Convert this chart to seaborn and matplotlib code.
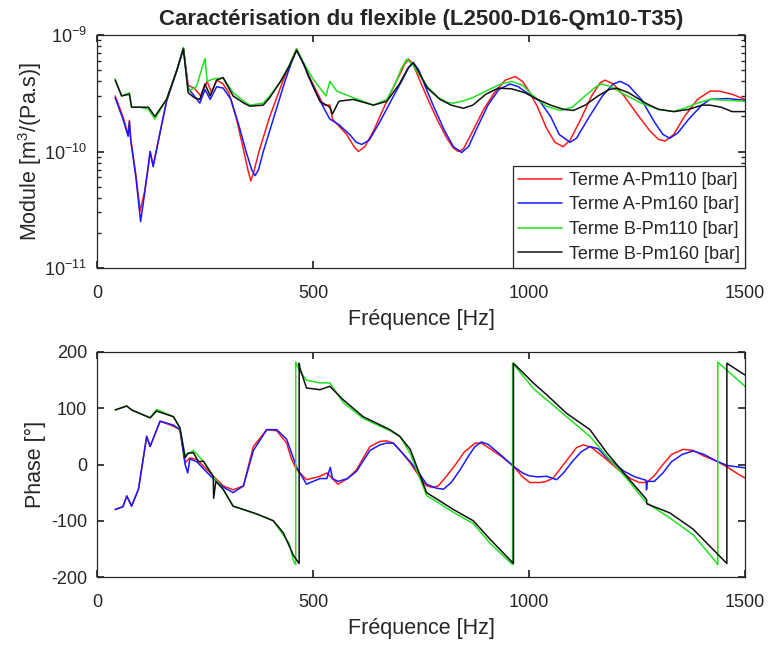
import numpy as np
import pandas as pd
import seaborn as sns
import matplotlib
matplotlib.use("Agg")
import matplotlib.pyplot as plt
from matplotlib.ticker import LogLocator, NullFormatter

## data (frequency in Hz)

# module, Terme A-Pm110
f_mod_a110 = [42, 60, 72, 75, 78, 90, 100, 110, 119, 123, 130, 145, 161, 185, 200, 211, 225, 240,
              255, 265, 277, 292, 305, 323, 340, 350, 356, 362, 375, 400, 430, 450, 462, 475, 490,
              524, 539, 545, 578, 595, 605, 620, 640, 660, 680, 700, 712, 721, 732, 748, 770, 790,
              810, 825, 836, 848, 870, 895, 920, 945, 968, 985, 1000, 1020, 1040, 1060, 1079, 1095,
              1120, 1145, 1165, 1176, 1195, 1220, 1250, 1280, 1300, 1315, 1335, 1360, 1390, 1419,
              1440, 1470, 1500]
mod_a110 = [3.0e-10, 2.0e-10, 1.4e-10, 1.85e-10, 1.3e-10, 6.3e-11, 3.1e-11, 4.5e-11, 7.6e-11, 1.0e-10,
            7.6e-11, 1.4e-10, 2.7e-10, 5.0e-10, 7.8e-10, 3.7e-10, 3.5e-10, 3.0e-10, 4.0e-10, 3.2e-10,
            4.1e-10, 3.8e-10, 3.2e-10, 1.9e-10, 1.0e-10, 6.8e-11, 5.6e-11, 6.5e-11, 1.0e-10, 2.0e-10,
            4.0e-10, 6.0e-10, 7.6e-10, 6.0e-10, 4.5e-10,
            2.5e-10, 2.5e-10, 1.9e-10, 1.4e-10, 1.1e-10, 1.0e-10, 1.1e-10, 1.5e-10, 2.2e-10, 3.2e-10,
            4.5e-10, 5.6e-10, 6.2e-10, 5.6e-10, 4.0e-10, 2.6e-10, 1.8e-10,
            1.3e-10, 1.07e-10, 1.0e-10, 1.05e-10, 1.5e-10, 2.3e-10, 3.2e-10, 4.1e-10, 4.4e-10, 4.0e-10,
            3.3e-10, 2.4e-10, 1.6e-10, 1.2e-10, 1.1e-10, 1.25e-10,
            1.9e-10, 3.0e-10, 3.9e-10, 4.1e-10, 3.8e-10, 3.0e-10, 2.1e-10, 1.5e-10, 1.27e-10, 1.23e-10,
            1.4e-10, 2.0e-10, 2.8e-10, 3.3e-10,
            3.3e-10, 3.1e-10, 2.8e-10]

# module, Terme A-Pm160
f_mod_a160 = [42, 60, 72, 75, 78, 90, 101, 110, 119, 123, 130, 145, 161, 185, 200, 211, 225, 238,
              250, 262, 277, 292, 310, 330, 345, 358, 366, 374, 385, 410, 435, 450, 462, 475, 490,
              505, 524, 539, 560, 585, 600, 613, 630, 655, 680, 705, 722, 732, 745, 760, 780, 805,
              825, 844, 860, 880, 905, 930, 956, 975, 1000, 1025, 1050, 1070, 1095, 1110, 1140,
              1170, 1195, 1211, 1230, 1260, 1290, 1310, 1326, 1345, 1370, 1400, 1419, 1460, 1500]
mod_a160 = [2.9e-10, 1.9e-10, 1.35e-10, 1.8e-10, 1.25e-10, 6.0e-11, 2.5e-11, 4.3e-11, 7.6e-11, 1.0e-10,
            7.4e-11, 1.4e-10, 2.7e-10, 5.0e-10, 7.6e-10, 3.5e-10, 3.0e-10, 2.6e-10, 3.4e-10, 2.8e-10,
            3.6e-10, 3.5e-10, 2.8e-10, 1.6e-10, 1.0e-10, 7.0e-11, 6.2e-11, 7.0e-11, 1.0e-10, 2.0e-10,
            4.0e-10, 5.8e-10, 7.4e-10, 6.0e-10, 4.4e-10,
            3.3e-10, 2.4e-10, 1.9e-10, 1.7e-10, 1.4e-10, 1.2e-10, 1.15e-10, 1.25e-10, 1.8e-10, 2.7e-10,
            4.0e-10, 5.3e-10, 5.8e-10, 5.0e-10, 3.6e-10, 2.4e-10, 1.5e-10,
            1.1e-10, 9.8e-11, 1.1e-10, 1.6e-10, 2.5e-10, 3.4e-10, 3.8e-10, 3.6e-10, 3.1e-10, 2.7e-10,
            2.0e-10, 1.4e-10, 1.2e-10, 1.3e-10, 2.0e-10,
            3.0e-10, 3.8e-10, 4.0e-10, 3.7e-10, 2.8e-10, 1.8e-10, 1.4e-10, 1.3e-10, 1.45e-10, 1.9e-10,
            2.5e-10, 2.8e-10, 2.85e-10, 2.75e-10]

# module, Terme B-Pm110
f_mod_b110 = [42, 57, 75, 80, 100, 119, 134, 161, 185, 200, 211, 230, 250, 255, 270, 292, 315, 340,
              354, 385, 400, 425, 445, 462, 480, 500, 530, 539, 555, 593, 640, 671, 690, 705, 717,
              730, 745, 765, 790, 810, 825, 845, 870, 900, 935, 960, 985, 1010, 1040, 1072, 1100,
              1130, 1155, 1168, 1190, 1220, 1260, 1300, 1334, 1360, 1390, 1419, 1460, 1500]
mod_b110 = [4.2e-10, 3.0e-10, 3.2e-10, 2.4e-10, 2.4e-10, 2.3e-10, 1.9e-10, 2.8e-10, 5.0e-10, 7.8e-10,
            3.3e-10, 3.6e-10, 6.3e-10, 4.0e-10, 4.2e-10, 4.3e-10, 3.2e-10, 2.7e-10,
            2.5e-10, 2.6e-10, 3.0e-10, 4.0e-10, 5.5e-10, 7.6e-10, 5.6e-10, 4.2e-10, 3.0e-10, 4.0e-10,
            3.3e-10, 2.9e-10, 2.5e-10, 2.8e-10, 3.8e-10, 5.2e-10, 6.2e-10,
            5.6e-10, 4.6e-10, 3.6e-10, 2.9e-10, 2.65e-10, 2.6e-10, 2.7e-10, 2.9e-10, 3.3e-10, 3.8e-10,
            4.0e-10, 3.7e-10, 3.0e-10, 2.45e-10, 2.25e-10, 2.4e-10,
            3.0e-10, 3.6e-10, 3.8e-10, 3.6e-10, 3.1e-10, 2.6e-10, 2.3e-10, 2.2e-10, 2.35e-10, 2.6e-10,
            2.8e-10, 2.75e-10, 2.7e-10]

# module, Terme B-Pm160
f_mod_b160 = [42, 57, 75, 80, 100, 119, 134, 161, 185, 200, 211, 225, 238, 250, 262, 277, 292, 315,
              340, 354, 385, 400, 425, 445, 462, 480, 490, 516, 539, 545, 560, 593, 640, 671, 700,
              720, 732, 745, 765, 794, 820, 848, 870, 900, 929, 960, 990, 1020, 1050, 1080, 1103,
              1130, 1160, 1185, 1203, 1230, 1270, 1300, 1336, 1370, 1400, 1419, 1445, 1470, 1500]
mod_b160 = [4.1e-10, 3.0e-10, 3.1e-10, 2.4e-10, 2.4e-10, 2.4e-10, 2.0e-10, 2.8e-10, 5.0e-10, 7.6e-10,
            3.2e-10, 2.9e-10, 2.8e-10, 3.8e-10, 3.0e-10, 4.1e-10, 4.3e-10, 3.0e-10,
            2.6e-10, 2.45e-10, 2.5e-10, 2.9e-10, 4.0e-10, 5.4e-10, 7.4e-10, 5.5e-10, 4.4e-10, 2.7e-10,
            2.4e-10, 2.1e-10, 2.7e-10, 2.8e-10, 2.5e-10, 2.7e-10, 3.8e-10,
            5.2e-10, 5.8e-10, 4.8e-10, 3.5e-10, 2.8e-10, 2.5e-10, 2.35e-10, 2.5e-10, 3.1e-10, 3.5e-10,
            3.45e-10, 3.2e-10, 2.8e-10, 2.5e-10, 2.3e-10, 2.25e-10,
            2.5e-10, 3.0e-10, 3.4e-10, 3.5e-10, 3.2e-10, 2.6e-10, 2.3e-10, 2.2e-10, 2.3e-10, 2.5e-10,
            2.5e-10, 2.4e-10, 2.2e-10, 2.2e-10]

# phase (deg)
f_ph_a110 = [42, 60, 69, 80, 96, 115, 123, 146, 177, 192, 204, 215, 231, 262, 292, 315, 339, 362,
             393, 416, 439, 450, 462, 485, 516, 532, 558, 580, 601, 615, 632, 655, 670, 686, 705,
             725, 745, 763, 778, 790, 810, 830, 850, 875, 890, 910, 935, 964, 985, 1002, 1025,
             1040, 1056, 1075, 1095, 1110, 1126, 1145, 1170, 1190, 1211, 1235, 1255, 1272, 1290,
             1310, 1330, 1357, 1380, 1405, 1434, 1460, 1480, 1500]
ph_a110 = [-80, -75, -56, -74, -44, 50, 32, 77, 68, 62, 3, 12, 9, -15, -38, -45, -38, 32,
           62, 60, 38, 10, -9, -27, -21, -15, -35, -25, -9, 10, 32, 41, 42, 38, 22,
           3, -20, -38, -41, -38, -20, 0, 22, 38, 38, 28, 15, -3, -22, -32, -32,
           -30, -24, -5, 15, 30, 35, 30, 15, 2, -12, -25, -32, -32, -20,
           0, 18, 27, 25, 15, 6, -5, -15, -24]

f_ph_a160 = [42, 60, 69, 80, 96, 115, 123, 146, 177, 192, 204, 210, 215, 231, 262, 292, 315, 339,
             362, 393, 416, 439, 462, 485, 516, 532, 540, 545, 558, 580, 601, 615, 632, 655, 670,
             686, 705, 725, 745, 763, 785, 802, 820, 840, 860, 875, 890, 905, 930, 964, 985, 1000,
             1020, 1041, 1064, 1080, 1100, 1120, 1141, 1160, 1180, 1200, 1220, 1245, 1271, 1272,
             1274, 1290, 1310, 1330, 1355, 1380, 1405, 1434, 1460, 1500]
ph_a160 = [-80, -75, -56, -74, -44, 50, 32, 77, 70, 62, 0, -15, 10, 5, -20, -40, -50, -38,
           25, 62, 62, 45, -5, -35, -25, -25, -5, -25, -30, -25, -12, 5, 25, 35, 38,
           38, 22, 5, -15, -35, -42, -44, -32, -10, 15, 32, 40, 36, 20, -3, -15, -20,
           -22, -21, -27, -15, 5, 22, 32, 28, 12, 0, -12, -22, -28, -45,
           -30, -30, -15, 5, 18, 24, 18, 6, -2, -6]

f_ph_b110 = [42, 69, 80, 123, 138, 177, 192, 204, 223, 246, 269, 292, 315, 370, 408, 431, 445,
             455, 460, 460, 470, 485, 516, 539, 570, 616, 678, 701, 725, 763, 825, 871, 910, 962,
             962, 1010, 1041, 1087, 1141, 1180, 1226, 1272, 1326, 1380, 1427, 1437, 1437, 1500]
ph_b110 = [97, 104, 97, 83, 98, 85, 65, 15, 25, 6, -21, -44, -74, -88, -100, -125, -140,
           -172, -178, 182, 165, 150, 145, 145, 110, 82, 60, 50, 20, -55, -85, -105, -140, -178,
           180, 135, 115, 85, 50, 15, -25, -68, -95, -125, -168, -178, 182, 139]

f_ph_b160 = [42, 69, 80, 123, 138, 177, 192, 204, 210, 223, 235, 246, 269, 270, 275, 292, 315,
             370, 408, 431, 455, 468, 468, 470, 485, 516, 539, 570, 616, 678, 701, 725, 763, 825,
             871, 910, 964, 964, 1010, 1041, 1087, 1141, 1180, 1226, 1272, 1273, 1326, 1380, 1458,
             1458, 1500]
ph_b160 = [97, 104, 97, 83, 95, 85, 65, 12, 20, 21, 5, 6, -21, -60, -30, -44, -74,
           -88, -100, -121, -162, -176, 180, 171, 136, 133, 139, 115, 85, 62, 50, 27, -50, -80,
           -100, -133, -176, 180, 145, 124, 91, 62, 21, -21, -62, -70, -86, -115, -176,
           180, 159]

labels = ["Terme A-Pm110 [bar]", "Terme A-Pm160 [bar]", "Terme B-Pm110 [bar]", "Terme B-Pm160 [bar]"]
colors = ["#ff1a1a", "#1a1aff", "#22e022", "#111111"]

mod_series = [(f_mod_a110, mod_a110), (f_mod_a160, mod_a160), (f_mod_b110, mod_b110), (f_mod_b160, mod_b160)]
ph_series = [(f_ph_a110, ph_a110), (f_ph_a160, ph_a160), (f_ph_b110, ph_b110), (f_ph_b160, ph_b160)]

## style
sns.set_theme(style="white")
plt.rcParams['font.family'] = ['Liberation Sans', 'DejaVu Sans']
plt.rcParams['mathtext.fontset'] = 'custom'
plt.rcParams['mathtext.rm'] = 'Liberation Sans'
plt.rcParams['axes.unicode_minus'] = False
plt.rcParams['xtick.direction'] = 'in'
plt.rcParams['ytick.direction'] = 'in'

fig = plt.figure(figsize=(7.69, 6.46), dpi=100)
ax1 = fig.add_axes([97/769, 1-268/646, 648/769, 233/646])
ax2 = fig.add_axes([97/769, 1-577/646, 648/769, 225/646])

for (f, v), lab, c in zip(mod_series, labels, colors):
    sns.lineplot(x=f, y=v, ax=ax1, color=c, label=lab, sort=False, estimator=None, linewidth=1.1)

for (f, v), c in zip(ph_series, colors):
    sns.lineplot(x=f, y=v, ax=ax2, color=c, sort=False, estimator=None, linewidth=1.1)

ax1.set_yscale("log")
ax1.set_ylim(1e-11, 1e-9)
ax1.yaxis.set_major_locator(LogLocator(base=10, numticks=5))
ax1.yaxis.set_minor_locator(LogLocator(base=10, subs=np.arange(2, 10), numticks=20))
ax1.yaxis.set_minor_formatter(NullFormatter())
ax1.set_ylabel("Module [m$^3$/(Pa.s)]", fontsize=15.5, labelpad=0)
ax1.set_title("Caractérisation du flexible (L2500-D16-Qm10-T35)", fontsize=16, fontweight="bold", pad=7)

ax2.set_ylim(-200, 200)
ax2.set_yticks([-200, -100, 0, 100, 200])
ax2.set_ylabel("Phase [°]", fontsize=15.5, labelpad=4)

for ax in (ax1, ax2):
    ax.set_xlim(0, 1500)
    ax.set_xticks([0, 500, 1000, 1500])
    ax.set_xlabel("Fréquence [Hz]", fontsize=15.5, labelpad=5)
    ax.tick_params(which="both", top=True, right=True, left=True, bottom=True,
                   labelsize=13, colors="#262626", length=5)
    ax.tick_params(axis="x", pad=12)
    ax.tick_params(axis="y", pad=7)
    ax.tick_params(which="minor", length=3)
    for s in ax.spines.values():
        s.set_color("#262626")
        s.set_linewidth(0.9)

leg = ax1.legend(loc="lower right", fontsize=13, frameon=True, fancybox=False, handlelength=2.45,
                 handletextpad=0.35, borderaxespad=0.0, labelspacing=0.42, borderpad=0.3, framealpha=1)
leg.get_frame().set_edgecolor("#262626")
leg.get_frame().set_linewidth(0.9)

fig.savefig("out.png", dpi=100)
